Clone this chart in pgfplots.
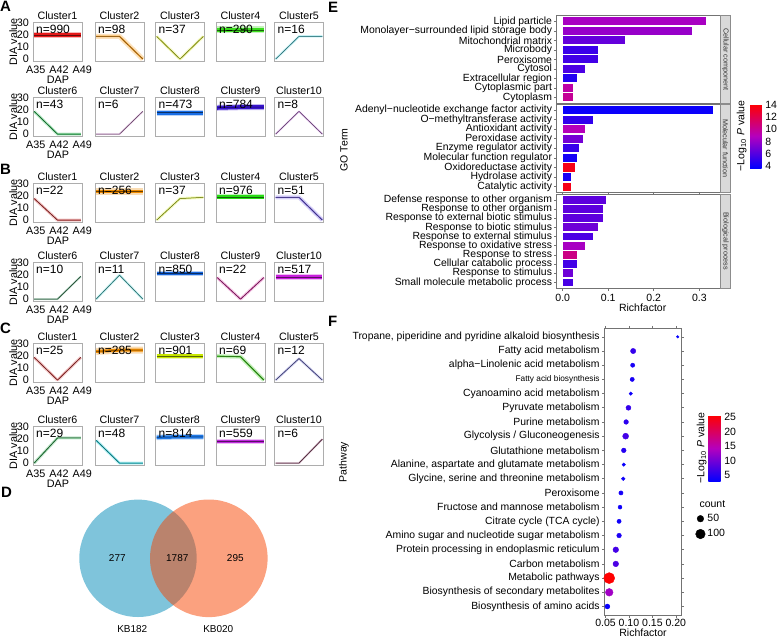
\documentclass[border=0pt]{standalone}
\usepackage{fontspec}
\setmainfont{Liberation Sans}
\usepackage{pgfplots}
\usepackage{pgfplotstable}
\pgfplotsset{compat=1.18}

\newcommand\fs[1]{\fontsize{#1}{#1}\selectfont}

% cluster colours (A, B, C)
\definecolor{cA1}{RGB}{230,25,25}
\definecolor{cA2}{RGB}{245,160,40}
\definecolor{cA3}{RGB}{215,230,60}
\definecolor{cA4}{RGB}{60,220,30}
\definecolor{cA5}{RGB}{110,215,225}
\definecolor{cA6}{RGB}{40,180,80}
\definecolor{cA7}{RGB}{205,150,205}
\definecolor{cA8}{RGB}{25,110,230}
\definecolor{cA9}{RGB}{55,20,205}
\definecolor{cA10}{RGB}{200,140,220}
\definecolor{cB1}{RGB}{205,70,70}
\definecolor{cB2}{RGB}{240,140,0}
\definecolor{cB3}{RGB}{215,235,70}
\definecolor{cB4}{RGB}{40,220,20}
\definecolor{cB5}{RGB}{120,100,225}
\definecolor{cB6}{RGB}{80,150,110}
\definecolor{cB7}{RGB}{100,210,210}
\definecolor{cB8}{RGB}{20,100,220}
\definecolor{cB9}{RGB}{210,60,160}
\definecolor{cB10}{RGB}{200,30,220}
\definecolor{cC1}{RGB}{205,70,70}
\definecolor{cC2}{RGB}{240,140,0}
\definecolor{cC3}{RGB}{200,230,0}
\definecolor{cC4}{RGB}{70,200,40}
\definecolor{cC5}{RGB}{130,130,210}
\definecolor{cC6}{RGB}{60,170,90}
\definecolor{cC7}{RGB}{40,200,210}
\definecolor{cC8}{RGB}{30,120,230}
\definecolor{cC9}{RGB}{190,40,220}
\definecolor{cC10}{RGB}{150,90,120}
\definecolor{vennA}{RGB}{0,137,183}
\definecolor{vennB}{RGB}{247,67,0}
\definecolor{golow}{RGB}{0,0,255}
\definecolor{gomid}{RGB}{180,0,190}
\definecolor{gohigh}{RGB}{255,0,0}
\definecolor{strip}{RGB}{217,217,217}

\pgfplotsset{
  colormap={gomap}{rgb255=(0,0,255) rgb255=(180,0,190) rgb255=(255,0,0)},
  /pgf/number format/assume math mode=true,
  clu/.style={scale only axis, width=49pt, height=39.5pt, anchor=north west,
    xmin=-0.05, xmax=2.05, ymin=-2, ymax=31,
    axis line style={draw=black!32, line width=0.7pt},
    xtick=\empty, ytick=\empty,
    every axis title/.style={at={(0.5,1)}, anchor=base, yshift=3pt, font=\fs{10.7}}},
  clufirst/.style={xtick={0,1,2}, xticklabels={A35,A42,A49}, ytick={0,10,20,30},
    tick style={draw=none}, major tick length=0pt,
    xticklabel style={anchor=base, inner sep=0pt, yshift=-12pt, xshift=1.5pt, font=\fs{10.8}},
    yticklabel style={anchor=east, inner sep=0pt, xshift=-4pt, font=\fs{10.8}}},
  goax/.style={scale only axis, anchor=north west, width=164pt,
    xmin=-0.0132, xmax=0.347, y dir=reverse,
    axis line style={draw=black!55, line width=0.8pt},
    tick align=outside, major tick length=2.5pt,
    tick style={draw=black!55, line width=0.6pt},
    yticklabel style={font=\fs{10.4}, inner sep=0pt, xshift=-2pt},
    xticklabel style={font=\fs{10.5}}},
}

% one small cluster panel: [first column], left, top, title, n, plots
\newcommand\clu[6][]{%
  \begin{axis}[clu, #1, at={(#2pt,-#3pt)}, title={#4}]
  #6
  \node[anchor=base west, inner sep=0pt, xshift=3pt, yshift=-11pt, font=\fs{12}]
    at (rel axis cs:0,1) {n=#5};
  \end{axis}}

% profile with ribbon: colour, ribbon width, core width, coordinates
\newcommand\band[4]{%
  \addplot[draw=#1, line width=#2pt, opacity=0.3, line join=round] coordinates {#4};
  \addplot[draw=#1, line width=#3pt, line join=round] coordinates {#4};
  \addplot[draw=#1!45!black, line width=0.5pt] coordinates {#4};}

% colour of a -log10 P value on the blue-purple-red scale
\newcommand\gocolor[2]{%
  \pgfmathsetmacro\gotval{max(0,min(1,(#2-3.57)/10.59))}%
  \ifdim\gotval pt<0.5pt
    \pgfmathsetmacro\gopct{\gotval*200}\colorlet{#1}{gomid!\gopct!golow}%
  \else
    \pgfmathsetmacro\gopct{(\gotval-0.5)*200}\colorlet{#1}{gohigh!\gopct!gomid}%
  \fi}

% one GO bar: colour name, richfactor, row, -log10 P
\newcommand\gobar[4]{\gocolor{#1}{#4}%
  \addplot[xbar, bar width=0.85, bar shift=0pt, fill=#1, draw=none] coordinates {(#2,#3)};}

\pgfplotstableread{
i r n p
1 0.204 7 3.0
2 0.109 28 6.0
3 0.108 18 4.2
4 0.107 18 4.2
5 0.104 12 3.6
6 0.099 25 6.0
7 0.094 22 5.5
8 0.093 36 7.0
9 0.089 22 5.0
10 0.089 12 3.2
11 0.088 14 3.6
12 0.083 18 4.0
13 0.081 16 3.6
14 0.079 18 3.6
15 0.079 22 4.5
16 0.072 32 7.0
17 0.072 32 7.5
18 0.058 121 25.8
19 0.058 59 13.0
20 0.054 25 3.2
}\pathtab

\begin{document}
\begin{tikzpicture}
\useasboundingbox (0,0) rectangle (777pt,-638pt);

% ---------------- panel letters and shared labels
\foreach \l/\x/\y in {A/0/6.7, B/0/169.5, C/0/328, D/1/492.5, E/328/7.5, F/328/321}
  \node[anchor=west, inner sep=0pt, font=\fs{15}\bfseries] at (\x pt,-\y pt) {\l};
\foreach \t in {22,97,183,262,343,426}{
  \node[rotate=90, font=\fs{10.8}] at (13.3pt,-\t pt-19.75pt) {DIA value};
  \node[anchor=base, font=\fs{10.8}] at (58pt,-\t pt-61.5pt) {DAP};
}

% ---------------- A
\clu[clufirst]{33}{22}{Cluster1}{990}{\band{cA1}{6}{4}{(0,20)(1,20)(2,20)}}
\clu{95}{22}{Cluster2}{98}{\band{cA2}{5}{1.5}{(0,19)(1,19)(2,0)}}
\clu{155.5}{22}{Cluster3}{37}{\band{cA3}{3}{0.8}{(0,19)(1,0)(2,19)}}
\clu{216}{22}{Cluster4}{290}{\band{cA4}{7}{3.5}{(0,24.5)(1,24.5)(2,24.5)}}
\clu{274.5}{22}{Cluster5}{16}{\band{cA5}{2.5}{0.8}{(0,0)(1,19)(2,19)}}
\clu[clufirst]{33}{97}{Cluster6}{43}{\band{cA6}{3}{0.8}{(0,19)(1,0)(2,0)}}
\clu{95}{97}{Cluster7}{6}{\band{cA7}{2}{0.7}{(0,0)(1,0)(2,19)}}
\clu{155.5}{97}{Cluster8}{473}{\band{cA8}{6}{4}{(0,18)(1,18)(2,18)}}
\clu{216}{97}{Cluster9}{784}{\band{cA9}{6}{4}{(0,22)(1,22.5)(2,22.5)}}
\clu{274.5}{97}{Cluster10}{8}{\band{cA10}{2}{0.7}{(0,0)(1,19)(2,0)}}

% ---------------- B
\clu[clufirst]{33}{183}{Cluster1}{22}{\band{cB1}{3}{0.8}{(0,18)(1,0)(2,0)}}
\clu{95}{183}{Cluster2}{256}{\band{cB2}{7}{3}{(0,24)(1,24)(2,24)}}
\clu{155.5}{183}{Cluster3}{37}{\band{cB3}{3}{0.8}{(0,0)(1,18)(2,19)}}
\clu{216}{183}{Cluster4}{976}{\band{cB4}{5}{3.5}{(0,19.5)(1,19.5)(2,19.5)}}
\clu{274.5}{183}{Cluster5}{51}{\band{cB5}{4}{1.2}{(0,19)(1,19)(2,0)}}
\clu[clufirst]{33}{262}{Cluster6}{10}{\band{cB6}{2}{0.7}{(0,0)(1,0)(2,19)}}
\clu{95}{262}{Cluster7}{11}{\band{cB7}{2.5}{0.7}{(0,0)(1,20)(2,0)}}
\clu{155.5}{262}{Cluster8}{850}{\band{cB8}{5.5}{3.5}{(0,21.5)(1,21.5)(2,21.5)}}
\clu{216}{262}{Cluster9}{22}{\band{cB9}{3}{0.8}{(0,18)(1,0)(2,18)}}
\clu{274.5}{262}{Cluster10}{517}{\band{cB10}{5.5}{3.5}{(0,18.5)(1,18.5)(2,18.5)}}

% ---------------- C
\clu[clufirst]{33}{343}{Cluster1}{25}{\band{cC1}{3}{0.8}{(0,19)(1,0)(2,19)}}
\clu{95}{343}{Cluster2}{285}{\band{cC2}{7}{3}{(0,24)(1,25)(2,25)}}
\clu{155.5}{343}{Cluster3}{901}{\band{cC3}{5}{3.5}{(0,20)(1,20)(2,20)}}
\clu{216}{343}{Cluster4}{69}{\band{cC4}{4}{1.2}{(0,20)(1,19.5)(2,0)}}
\clu{274.5}{343}{Cluster5}{12}{\band{cC5}{2.5}{0.7}{(0,0)(1,18)(2,0)}}
\clu[clufirst]{33}{426}{Cluster6}{29}{\band{cC6}{3}{0.8}{(0,0)(1,21)(2,21)}}
\clu{95}{426}{Cluster7}{48}{\band{cC7}{3}{1}{(0,19)(1,0)(2,0)}}
\clu{155.5}{426}{Cluster8}{814}{\band{cC8}{5.5}{3.5}{(0,21.5)(1,22)(2,22)}}
\clu{216}{426}{Cluster9}{559}{\band{cC9}{5.5}{3.5}{(0,18)(1,18)(2,18)}}
\clu{274.5}{426}{Cluster10}{6}{\band{cC10}{2}{0.7}{(0,0)(1,0)(2,20)}}

% ---------------- D: Venn
\begin{axis}[at={(60pt,-490pt)}, anchor=north west, x=1pt, y=1pt, y dir=reverse,
  xmin=60, xmax=290, ymin=490, ymax=638, hide axis, clip=false]
\addplot[only marks, mark=*, mark size=58.7pt, color=vennA, draw opacity=0,
  mark options={draw=none, draw opacity=0, fill=vennA, fill opacity=0.5}]
  coordinates {(138,558.3)};
\addplot[only marks, mark=*, mark size=58.8pt, color=vennB, draw opacity=0,
  mark options={draw=none, draw opacity=0, fill=vennB, fill opacity=0.5}]
  coordinates {(208.8,558.3)};
\end{axis}
\node[font=\fs{10}] at (117.3pt,-558.3pt) {277};
\node[font=\fs{10}] at (177.3pt,-558.3pt) {1787};
\node[font=\fs{10}] at (235.3pt,-558.3pt) {295};
\node[font=\fs{10}] at (132.3pt,-629pt) {KB182};
\node[font=\fs{10}] at (218.3pt,-629pt) {KB020};

% ---------------- E: GO enrichment
\begin{axis}[goax, at={(556.7pt,-15.7pt)}, height=87.3pt, ymin=0.4, ymax=9.6,
  ytick={1,...,9}, xtick=\empty,
  yticklabels={Lipid particle, Monolayer−surrounded lipid storage body,
    Mitochondrial matrix, Microbody, Peroxisome, Cytosol, Extracellular region,
    Cytoplasmic part, Cytoplasm}]
\gobar{ga1}{0.314}{1}{8.5}
\gobar{ga2}{0.283}{2}{8.0}
\gobar{ga3}{0.137}{3}{6.5}
\gobar{ga4}{0.078}{4}{5.3}
\gobar{ga5}{0.078}{5}{5.5}
\gobar{ga6}{0.050}{6}{5.8}
\gobar{ga7}{0.031}{7}{4.6}
\gobar{ga8}{0.023}{8}{9.5}
\gobar{ga9}{0.022}{9}{10.0}
\end{axis}
\begin{axis}[goax, at={(556.7pt,-104.3pt)}, height=88pt, ymin=0.4, ymax=9.6,
  ytick={1,...,9}, xtick=\empty,
  yticklabels={Adenyl−nucleotide exchange factor activity, O−methyltransferase activity,
    Antioxidant activity, Peroxidase activity, Enzyme regulator activity,
    Molecular function regulator, Oxidoreductase activity, Hydrolase activity,
    Catalytic activity},
  colorbar, colormap name=gomap, point meta min=3.57, point meta max=14.16,
  colorbar style={at={(parent axis.north east)}, anchor=north west, xshift=20.8pt,
    yshift=0.3pt, scale only axis, width=11.7pt, height=64.3pt,
    ytick={4,6,8,10,12,14}, major tick length=0pt, tick style={draw=none},
    axis line style={draw=none}, yticklabel style={font=\fs{10.5}}}]
\gobar{gb1}{0.329}{1}{3.9}
\gobar{gb2}{0.067}{2}{5.0}
\gobar{gb3}{0.049}{3}{9.0}
\gobar{gb4}{0.044}{4}{7.0}
\gobar{gb5}{0.035}{5}{5.2}
\gobar{gb6}{0.032}{6}{4.2}
\gobar{gb7}{0.027}{7}{13.5}
\gobar{gb8}{0.018}{8}{4.3}
\gobar{gb9}{0.018}{9}{13.5}
\end{axis}
\begin{axis}[goax, at={(556.7pt,-194.3pt)}, height=93.7pt, ymin=0.4, ymax=10.6,
  ytick={1,...,10}, xtick={0,0.1,0.2,0.3}, xticklabels={0.0,0.1,0.2,0.3},
  yticklabels={Defense response to other organism, Response to other organism,
    Response to external biotic stimulus, Response to biotic stimulus,
    Response to external stimulus, Response to oxidative stress, Response to stress,
    Cellular catabolic process, Response to stimulus, Small molecule metabolic process}]
\gobar{gc1}{0.094}{1}{6.3}
\gobar{gc2}{0.089}{2}{6.3}
\gobar{gc3}{0.089}{3}{6.3}
\gobar{gc4}{0.077}{4}{6.8}
\gobar{gc5}{0.066}{5}{5.8}
\gobar{gc6}{0.050}{6}{8.5}
\gobar{gc7}{0.031}{7}{10.5}
\gobar{gc8}{0.031}{8}{5.5}
\gobar{gc9}{0.023}{9}{6.8}
\gobar{gc10}{0.022}{10}{5.7}
\end{axis}
\foreach \a/\b/\t in {15.7/103/Cellular component, 104.3/192.3/Molecular function,
    194.3/288/Biological process}{
  \draw[fill=strip, draw=black!45, line width=0.6pt] (720.7pt,-\a pt) rectangle (730.3pt,-\b pt);
  \node[rotate=-90, font=\fs{7.2}, text=black!80] at (725.5pt,-\a pt/2-\b pt/2) {\t};
}
\node[rotate=90, font=\fs{10.5}] at (344pt,-150pt) {GO Term};
\node[anchor=base, font=\fs{10.5}] at (642.7pt,-311.5pt) {Richfactor};
\node[rotate=90, font=\fs{10.5}] at (741.7pt,-136pt) {−Log\textsubscript{10} \textit{P} value};

% ---------------- F: KEGG dot plot
\begin{axis}[scale only axis, anchor=north west, at={(604.3pt,-328.3pt)},
  width=77.4pt, height=286.7pt, xmin=0.0475, xmax=0.2125, ymin=0.4, ymax=20.6,
  y dir=reverse, axis line style={draw=black!55, line width=0.8pt},
  tick align=outside, major tick length=2.5pt,
  tick style={draw=black!55, line width=0.6pt},
  xtick={0.05,0.10,0.15,0.20}, xticklabels={0.05,0.10,0.15,0.20},
  xticklabel style={font=\fs{10.5}, inner sep=1pt},
  ytick={1,...,20},
  yticklabel style={font=\fs{10.4}, inner sep=0pt, xshift=-2pt},
  yticklabels={{Tropane, piperidine and pyridine alkaloid biosynthesis},
    Fatty acid metabolism, alpha−Linolenic acid metabolism,
    {\fs{8.3}Fatty acid biosynthesis}, Cyanoamino acid metabolism,
    Pyruvate metabolism, Purine metabolism, Glycolysis / Gluconeogenesis,
    Glutathione metabolism, {Alanine, aspartate and glutamate metabolism},
    {Glycine, serine and threonine metabolism}, Peroxisome,
    Fructose and mannose metabolism, Citrate cycle (TCA cycle),
    Amino sugar and nucleotide sugar metabolism,
    Protein processing in endoplasmic reticulum, Carbon metabolism,
    Metabolic pathways, Biosynthesis of secondary metabolites,
    Biosynthesis of amino acids},
  colorbar, colormap name=gomap, point meta min=2.67, point meta max=25.8,
  colorbar style={at={(parent axis.north east)}, anchor=north west, xshift=18.1pt,
    yshift=-86.7pt, scale only axis, width=12.4pt, height=66.7pt,
    ytick={5,10,15,20,25}, major tick length=0pt, tick style={draw=none},
    axis line style={draw=none}, yticklabel style={font=\fs{10.5}}},
  legend style={at={(1.175,0.359)}, anchor=north west, draw=none, fill=none,
    font=\fs{10.5}, row sep=2.5pt, inner sep=0pt},
  legend cell align=left]
\addplot[scatter, only marks, mark=*, point meta=explicit, forget plot,
  scatter/use mapped color={draw=mapped color, fill=mapped color},
  visualization depends on={sqrt(\thisrow{n})*0.5 \as \msz},
  scatter/@pre marker code/.append style={/tikz/mark size=\msz}]
  table[x=r, y=i, meta=p] {\pathtab};
\addlegendimage{legend image code/.code={\fill[black] (4.8pt,0pt) circle (3.3pt);}}
\addlegendentry{50}
\addlegendimage{legend image code/.code={\fill[black] (4.8pt,0pt) circle (4.8pt);}}
\addlegendentry{100}
\end{axis}
\node[rotate=90, font=\fs{10.5}] at (344pt,-462pt) {Pathway};
\node[anchor=base, font=\fs{10.5}] at (643pt,-636.5pt) {Richfactor};
\node[rotate=90, font=\fs{10.5}] at (701.7pt,-448pt) {−Log\textsubscript{10} \textit{P} value};
\node[anchor=base west, font=\fs{10.5}] at (696pt,-507.3pt) {count};
\end{tikzpicture}
\end{document}
